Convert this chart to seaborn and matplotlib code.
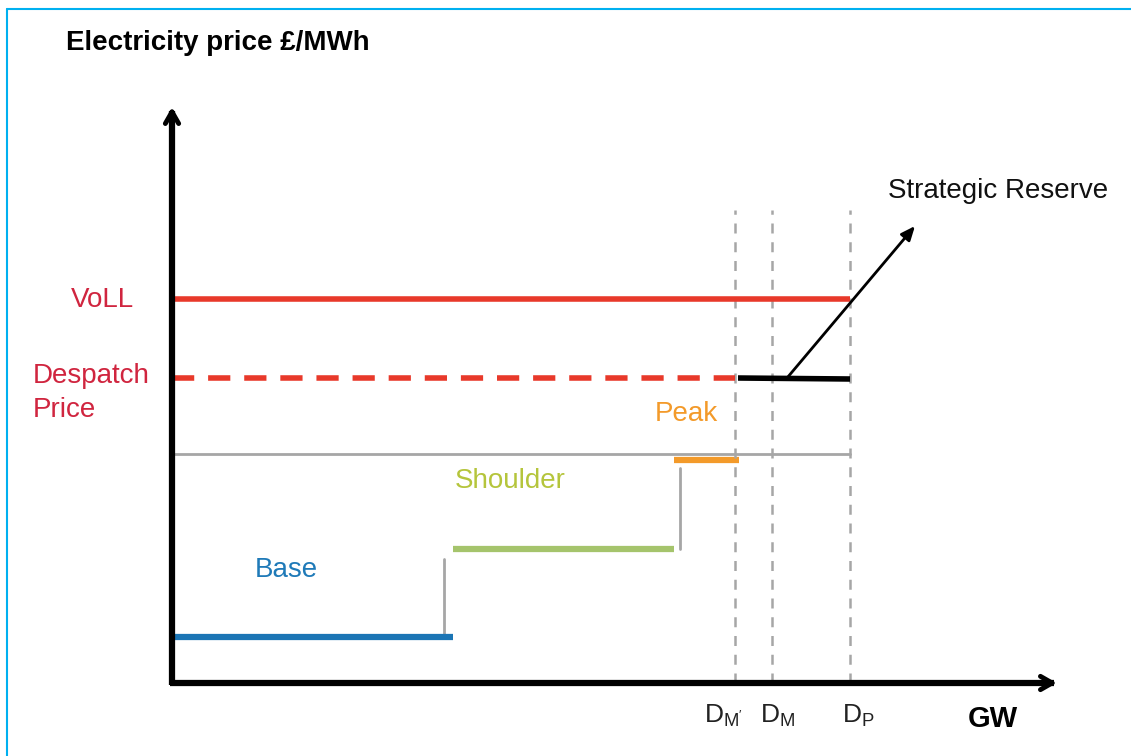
import matplotlib
matplotlib.use("Agg")
import matplotlib.pyplot as plt
import seaborn as sns
import pandas as pd

# ---- data (schematic units: x = GW, y = £/MWh) ----
tiers = ["Base", "Shoulder", "Peak"]
tier_start = [0, 281, 502]
tier_end = [281, 502, 567]
tier_price = [46, 134, 223]
tier_colors = ["#1B75B5", "#A5C46C", "#F39A2A"]
label_colors = ["#1F7AB8", "#B5C53C", "#F39A2A"]
step_x = [272, 508]          # gray risers between tiers
step_lo = [46, 134]
step_hi = [124, 215]
threshold_price = 229
despatch_price = 305
voll_price = 384
demand_labels = ["D$_{\\mathrm{M'}}$", "D$_{\\mathrm{M}}$", "D$_{\\mathrm{P}}$"]
demand_x = [563, 600, 678]
reserve_x = [566, 678]

sns.set_theme(style="white")
plt.rcParams['font.family'] = ['Liberation Sans', 'DejaVu Sans']
plt.rcParams['mathtext.fontset'] = 'custom'
plt.rcParams['mathtext.rm'] = 'Liberation Sans'
plt.rcParams['mathtext.it'] = 'Liberation Sans'

fig = plt.figure(figsize=(11.31, 7.56), dpi=100)
ax = fig.add_axes([0, 0, 1, 1])
ax.set_xlim(-172, 959)
ax.set_ylim(-73, 683)
ax.axis("off")

# frame (top & left)
ax.plot([-165.5, -165.5], [-73, 674.5], color="#00B0F0", lw=1.5, clip_on=False)
ax.plot([-165.5, 959], [674.5, 674.5], color="#00B0F0", lw=1.5, clip_on=False)

# gray risers
for x, lo, hi in zip(step_x, step_lo, step_hi):
    ax.plot([x, x], [lo, hi], color="#A6A6A6", lw=2)

# tier segments via seaborn
for name, s, e, p, c in zip(tiers, tier_start, tier_end, tier_price, tier_colors):
    df = pd.DataFrame({"GW": [s, e], "price": [p, p]})
    sns.lineplot(data=df, x="GW", y="price", ax=ax, color=c, lw=4.5, solid_capstyle="butt")

# threshold gray line
ax.plot([0, demand_x[2]], [threshold_price, threshold_price], color="#A6A6A6", lw=2)

# demand dashed verticals
for x in demand_x:
    ax.plot([x, x], [0, 473], color="#A6A6A6", lw=1.8, ls=(0, (4, 3.5)))

# despatch dashed red
ax.plot([0, demand_x[0]], [despatch_price, despatch_price], color="#E8392A", lw=4,
        ls=(0, (4, 2.5)))
# strategic reserve black
ax.plot(reserve_x, [despatch_price, despatch_price - 1], color="black", lw=4,
        solid_capstyle="butt")
# VoLL
ax.plot([0, demand_x[2]], [voll_price, voll_price], color="#E8392A", lw=4,
        solid_capstyle="butt")

# axes arrows
ax.plot([0, 0], [-2, 572], color="black", lw=4.5, solid_capstyle="butt")
ax.annotate("", xy=(0, 576), xytext=(0, 555),
            arrowprops=dict(arrowstyle="->,head_length=0.7,head_width=0.4", lw=3.5,
                            color="black", shrinkA=0, shrinkB=0))
ax.plot([-2, 882], [0, 0], color="black", lw=4.5, solid_capstyle="butt")
ax.annotate("", xy=(885, 0), xytext=(865, 0),
            arrowprops=dict(arrowstyle="->,head_length=0.7,head_width=0.4", lw=3.5,
                            color="black", shrinkA=0, shrinkB=0))

# Strategic reserve arrow
ax.annotate("", xy=(743, 457), xytext=(615, 305),
            arrowprops=dict(arrowstyle="-|>,head_length=0.7,head_width=0.3", lw=2,
                            color="black", shrinkA=0, shrinkB=0))
ax.text(716, 492, "Strategic Reserve", fontsize=20, color="#111111",
        ha="left", va="center")

# labels
label_pos = [(114, 113), (338, 202), (514, 269)]
for name, (x, y), c in zip(tiers, label_pos, label_colors):
    ax.text(x, y, name, fontsize=20, color=c, ha="center", va="center")

ax.text(-70, 383, "VoLL", fontsize=20, color="#D0253F", ha="center", va="center")
ax.text(-139, 290, "Despatch\nPrice", fontsize=20, color="#D0253F",
        ha="left", va="center", linespacing=1.4)

ax.text(-106, 640, "Electricity price £/MWh", fontsize=20, fontweight="bold",
        color="black", ha="left", va="center")
ax.text(821, -36, "GW", fontsize=21, fontweight="bold", color="black",
        ha="center", va="center")

for lab, x, dx in zip(demand_labels, demand_x, [-11, 6, 8]):
    ax.text(x + dx, -33, lab, fontsize=19, color="#222222", ha="center", va="center")

fig.savefig("out.png", dpi=100)
